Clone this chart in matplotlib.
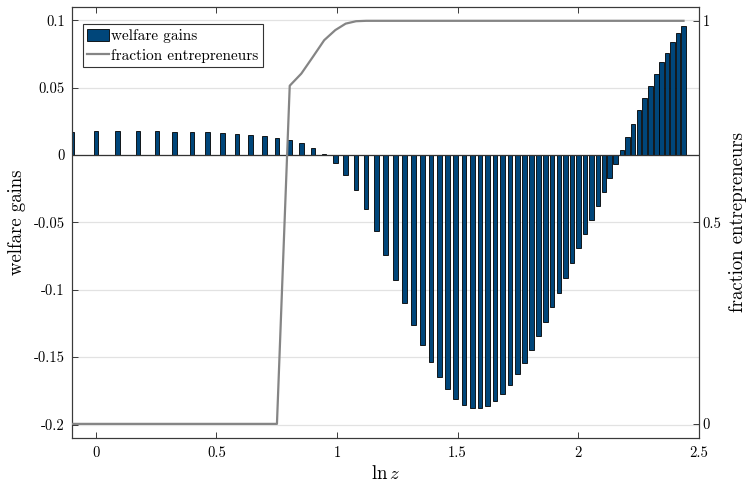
import matplotlib
matplotlib.use("Agg")
import matplotlib.pyplot as plt
from matplotlib.ticker import FixedLocator, FixedFormatter

plt.rcParams['font.family'] = ['cmr10', 'DejaVu Serif']
plt.rcParams['mathtext.fontset'] = 'cm'
plt.rcParams['axes.unicode_minus'] = False

# ---- data ----
ln_z = [-0.100, 0.000, 0.0895, 0.174, 0.253, 0.327, 0.398, 0.4625, 0.525, 0.586,
        0.642, 0.699, 0.751, 0.804, 0.852, 0.9005, 0.947, 0.993, 1.036, 1.079,
        1.121, 1.163, 1.202, 1.242, 1.279, 1.318, 1.354, 1.390, 1.424, 1.459,
        1.492, 1.526, 1.561, 1.593, 1.625, 1.656, 1.687, 1.718, 1.749, 1.778,
        1.807, 1.836, 1.865, 1.892, 1.920, 1.948, 1.975, 2.002, 2.029, 2.056,
        2.082, 2.107, 2.131, 2.156, 2.181, 2.205, 2.228, 2.252, 2.275, 2.300,
        2.324, 2.346, 2.369, 2.391, 2.414, 2.437]

welfare_gains = [0.0173, 0.0176, 0.0176, 0.0176, 0.0175, 0.0174, 0.0172, 0.0168, 0.0164, 0.0157,
                 0.0151, 0.0141, 0.0129, 0.0112, 0.0086, 0.0052, 0.0010, -0.0060, -0.0145, -0.0260,
                 -0.0401, -0.0563, -0.0743, -0.0925, -0.1100, -0.1260, -0.1408, -0.1537, -0.1650, -0.1740,
                 -0.1810, -0.1854, -0.1879, -0.1879, -0.1864, -0.1827, -0.1772, -0.1708, -0.1628, -0.1542,
                 -0.1445, -0.1346, -0.1239, -0.1130, -0.1021, -0.0910, -0.0803, -0.0694, -0.0590, -0.0483,
                 -0.0379, -0.0273, -0.0169, -0.0067, 0.0035, 0.0136, 0.0233, 0.0330, 0.0421, 0.0510,
                 0.0602, 0.0689, 0.0753, 0.0835, 0.0904, 0.0954]

fraction_entrepreneurs = [0, 0, 0, 0, 0, 0, 0, 0, 0, 0,
                          0, 0, 0, 0.839, 0.869, 0.911, 0.952, 0.977, 0.993, 0.999,
                          1, 1, 1, 1, 1, 1, 1, 1, 1, 1,
                          1, 1, 1, 1, 1, 1, 1, 1, 1, 1,
                          1, 1, 1, 1, 1, 1, 1, 1, 1, 1,
                          1, 1, 1, 1, 1, 1, 1, 1, 1, 1,
                          1, 1, 1, 1, 1, 1]

x_ticks = [0, 0.5, 1, 1.5, 2, 2.5]
x_tick_labels = ['0', '0.5', '1', '1.5', '2', '2.5']
yl_ticks = [-0.2, -0.15, -0.1, -0.05, 0, 0.05, 0.1]
yl_tick_labels = ['-0.2', '-0.15', '-0.1', '-0.05', '0', '0.05', '0.1']
yr_ticks = [0, 0.5, 1]
yr_tick_labels = ['0', '0.5', '1']

# ---- figure ----
fig = plt.figure(figsize=(7.48, 4.83), dpi=100)
ax = fig.add_axes([0.0959, 0.0932, 0.8382, 0.8929])
spine_col = '#3a3a3a'
bar_col = '#00467a'
tick_fs = 10.5
label_fs = 13.5

ax.set_xlim(-0.1, 2.5)
ax.set_ylim(-0.21, 0.11)
ax.yaxis.grid(True, color='#e2e2e2', linewidth=0.9, zorder=0)
ax.set_axisbelow(True)

bars = ax.bar(ln_z, welfare_gains, width=0.0188, color=bar_col,
              edgecolor='black', linewidth=0.6, zorder=2, label='welfare gains')
ax.axhline(0, color='#333333', linewidth=0.9, zorder=3)

ax.xaxis.set_major_locator(FixedLocator(x_ticks))
ax.xaxis.set_major_formatter(FixedFormatter(x_tick_labels))
ax.yaxis.set_major_locator(FixedLocator(yl_ticks))
ax.yaxis.set_major_formatter(FixedFormatter(yl_tick_labels))
ax.tick_params(axis='x', direction='in', length=4.5, width=0.7, colors=spine_col,
               labelcolor='black', labelsize=tick_fs, pad=6, top=True)
ax.tick_params(axis='y', direction='in', length=4.5, width=0.7, colors=spine_col,
               labelcolor='black', labelsize=tick_fs, pad=5, right=False)
ax.set_xlabel(r'$\ln z$', fontsize=label_fs)
ax.set_ylabel('welfare gains', fontsize=label_fs)
ax.yaxis.set_label_coords(-0.073, 0.5)
ax.xaxis.set_label_coords(0.5, -0.062)
ax.xaxis.label.set_va('top')

ax2 = ax.twinx()
ax2.set_ylim(-0.035, 1.035)
line, = ax2.plot(ln_z, fraction_entrepreneurs, color='#858585', linewidth=1.6,
                 label='fraction entrepreneurs', zorder=4)
ax2.yaxis.set_major_locator(FixedLocator(yr_ticks))
ax2.yaxis.set_major_formatter(FixedFormatter(yr_tick_labels))
ax2.tick_params(axis='y', direction='in', length=4.5, width=0.7, colors=spine_col,
                labelcolor='black', labelsize=tick_fs, pad=3)
ax2.set_ylabel('fraction entrepreneurs', fontsize=label_fs)
ax2.yaxis.set_label_coords(1.048, 0.5)

for a in (ax, ax2):
    for s in a.spines.values():
        s.set_color(spine_col)
        s.set_linewidth(0.8)

leg = ax2.legend(handles=[bars, line], loc='upper left',
                 bbox_to_anchor=(0.0175, 0.959), fontsize=11,
                 frameon=True, fancybox=False, edgecolor='#333333', framealpha=1,
                 borderpad=0.3, labelspacing=0.3, handlelength=1.42,
                 handleheight=0.87, handletextpad=0.13, borderaxespad=0)
leg.get_frame().set_linewidth(0.8)

fig.savefig('out.png', dpi=100)
